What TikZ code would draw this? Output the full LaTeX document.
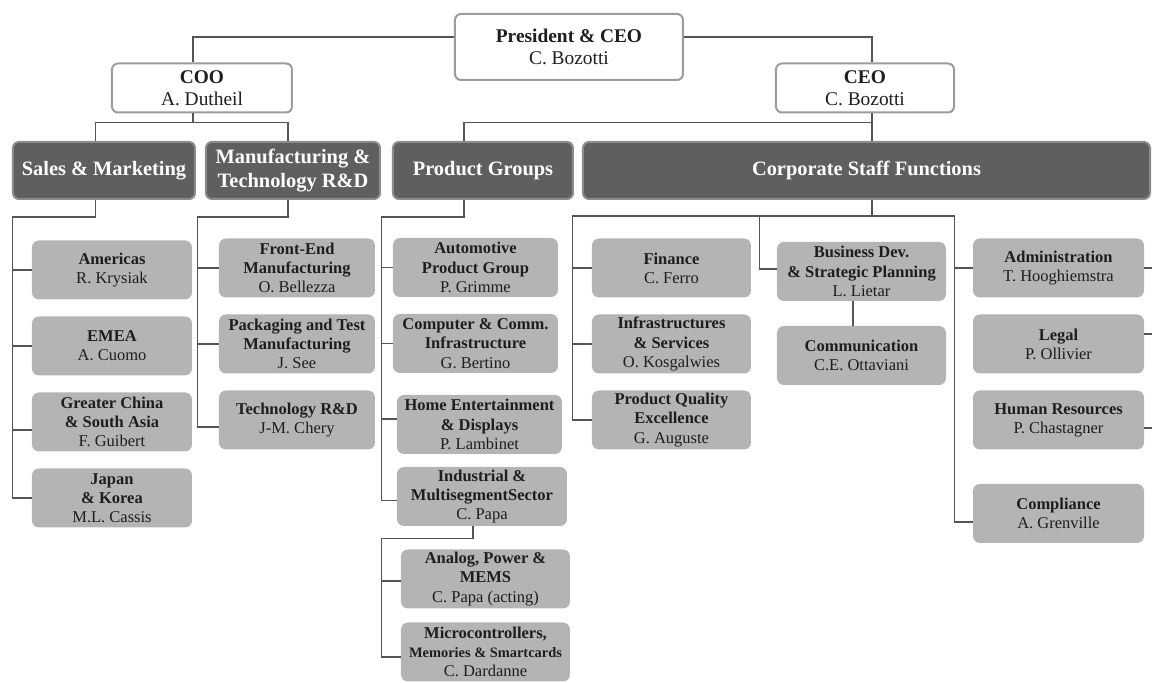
\documentclass[tikz,border=0pt]{standalone}
\usepackage{fontspec}
\setmainfont{Liberation Serif}
\usepackage{tikz}
\usetikzlibrary{positioning}
\usepackage{xcolor}
\definecolor{unitgray}{HTML}{B4B4B4}
\definecolor{darkbox}{HTML}{5F5F5F}
\definecolor{darkedge}{HTML}{8C8C8C}
\definecolor{edgegray}{HTML}{9C9C9C}
\definecolor{linedark}{HTML}{555555}
\definecolor{textdark}{HTML}{1E1E1E}
\tikzstyle{officer} = [rectangle, rounded corners=3pt, minimum width=90pt, minimum height=24.5pt, inner sep=1pt, align=center, draw=edgegray, line width=1pt, fill=white, text=textdark, font=\fontsize{9.7pt}{11.2pt}\selectfont]
\tikzstyle{division} = [rectangle, rounded corners=3pt, minimum width=90pt, minimum height=28.5pt, inner sep=1pt, align=center, draw=darkedge, line width=1pt, fill=darkbox, text=white, font=\fontsize{10.2pt}{12pt}\selectfont\bfseries]
\tikzstyle{unitbox} = [rectangle, rounded corners=3.5pt, minimum width=80pt, minimum height=29.5pt, inner sep=1pt, align=center, fill=unitgray, text=textdark, font=\fontsize{8.25pt}{9.6pt}\selectfont]
\tikzstyle{link} = [draw=linedark, line width=0.6pt]

\begin{document}
\begin{tikzpicture}[node distance=38pt]

\useasboundingbox (-284.5pt,23.5pt) rectangle (291.5pt,-318pt);
\coordinate (edge) at (291.5pt,0);

\node (pres) [officer, minimum width=114pt, minimum height=33pt] {\textbf{President \& CEO}\\C. Bozotti};
\node (coo) [officer, below of=pres, xshift=-183.5pt, yshift=17.5pt] {\textbf{COO}\\A. Dutheil};
\node (ceo) [officer, below of=pres, xshift=148pt, yshift=17.5pt, minimum width=89pt] {\textbf{CEO}\\C. Bozotti};

% divisions
\node (sales) [division, below of=coo, xshift=-49pt, yshift=-3.25pt, minimum width=91pt] {Sales \& Marketing};
\node (manuf) [division, right of=sales, xshift=56.5pt, minimum width=87pt] {Manufacturing \&\\Technology R\&D};
\node (pg) [division, right of=manuf, xshift=57pt] {Product Groups};
\node (corp) [division, below of=ceo, xshift=0.75pt, yshift=-3.25pt, minimum width=283.5pt] {Corporate Staff Functions};

% sales & marketing
\node (amer) [unitbox, below of=sales, xshift=4pt, yshift=-11.75pt] {\textbf{Americas}\\R. Krysiak};
\node (emea) [unitbox, below of=amer] {\textbf{EMEA}\\A. Cuomo};
\node (gc) [unitbox, below of=emea] {\textbf{Greater China}\\\textbf{\& South Asia}\\F. Guibert};
\node (japan) [unitbox, below of=gc] {\textbf{Japan}\\\textbf{\& Korea}\\M.L. Cassis};

% manufacturing
\node (fe) [unitbox, below of=manuf, xshift=2pt, yshift=-10.75pt, minimum width=78pt] {\textbf{Front-End}\\\textbf{Manufacturing}\\O. Bellezza};
\node (pack) [unitbox, below of=fe, minimum width=78pt] {\textbf{Packaging and Test}\\\textbf{Manufacturing}\\J. See};
\node (tech) [unitbox, below of=pack, minimum width=78pt] {\textbf{Technology R\&D}\\J-M. Chery};

% product groups
\node (auto) [unitbox, below of=pg, xshift=-3.75pt, yshift=-10.5pt, minimum width=82.5pt] {\textbf{Automotive}\\\textbf{Product Group}\\P. Grimme};
\node (comp) [unitbox, below of=auto, minimum width=82.5pt] {\textbf{Computer \& Comm.}\\\textbf{Infrastructure}\\G. Bertino};
\node (home) [unitbox, below of=comp, xshift=2pt, yshift=-2.5pt, minimum width=82.5pt] {\textbf{Home Entertainment}\\\textbf{\& Displays}\\P. Lambinet};
\node (indu) [unitbox, below of=home, xshift=1.25pt, yshift=2pt, minimum width=85pt] {\textbf{Industrial \&}\\\textbf{MultisegmentSector}\\C. Papa};
\node (analog) [unitbox, below of=indu, xshift=1.75pt, yshift=-3.25pt, minimum width=84.5pt] {\textbf{Analog, Power \&}\\\textbf{MEMS}\\C. Papa (acting)};
\node (micro) [unitbox, below of=analog, yshift=1.5pt, minimum width=84.5pt] {\textbf{Microcontrollers,}\\{\fontsize{7.2pt}{9.6pt}\selectfont\textbf{Memories \& Smartcards}}\\C. Dardanne};

% corporate staff
\node (fin) [unitbox, below of=corp, xshift=-97.5pt, yshift=-10.75pt, minimum width=79.5pt] {\textbf{Finance}\\C. Ferro};
\node (infra) [unitbox, below of=fin, minimum width=79.5pt] {\textbf{Infrastructures}\\\textbf{\& Services}\\O. Kosgalwies};
\node (pq) [unitbox, below of=infra, minimum width=79.5pt] {\textbf{Product Quality}\\\textbf{Excellence}\\G. Auguste};
\node (bd) [unitbox, below of=corp, xshift=-2.5pt, yshift=-12.5pt, minimum width=84.5pt] {\textbf{Business Dev.}\\\textbf{\& Strategic Planning}\\L. Lietar};
\node (comm) [unitbox, below of=bd, yshift=-4pt, minimum width=84.5pt] {\textbf{Communication}\\C.E. Ottaviani};
\node (admin) [unitbox, below of=corp, xshift=96pt, yshift=-10.75pt, minimum width=85.5pt] {\textbf{Administration}\\T. Hooghiemstra};
\node (legal) [unitbox, below of=admin, minimum width=85.5pt] {\textbf{Legal}\\P. Ollivier};
\node (hr) [unitbox, below of=legal, minimum width=85.5pt] {\textbf{Human Resources}\\P. Chastagner};
\node (compl) [unitbox, below of=hr, yshift=-8.75pt, minimum width=85.5pt] {\textbf{Compliance}\\A. Grenville};

% top links
\draw [link] ([yshift=5pt]pres.west) -| ([xshift=-4.5pt]coo.north);
\draw [link] ([yshift=5pt]pres.east) -| ([xshift=3.5pt]ceo.north);
\draw [link] ([xshift=-4.5pt]coo.south) -- ++(0,-4.5pt);
\draw [link] ([xshift=-4.25pt]sales.north) |- ([xshift=-4.5pt, yshift=-4.5pt]coo.south) -| ([xshift=-2.5pt]manuf.north);
\draw [link] ([xshift=3.5pt]ceo.south) -- ++(0,-4.5pt);
\draw [link] ([xshift=-9.5pt]pg.north) |- ([xshift=3.5pt, yshift=-4.5pt]ceo.south) -| ([xshift=2.75pt]corp.north);

% sales links
\draw [link] ([xshift=-4.25pt]sales.south) -- ++(0,-8.5pt) -| ([xshift=-9.5pt]japan.west) -- (japan.west);
\draw [link] (amer.west) -- ++(-9.5pt,0);
\draw [link] (emea.west) -- ++(-9.5pt,0);
\draw [link] ([yshift=-4pt]gc.west) -- ++(-9.5pt,0);

% manufacturing links
\draw [link] ([xshift=-2.5pt]manuf.south) -- ++(0,-8.5pt) -| ([xshift=-10.5pt, yshift=-3.5pt]tech.west) -- ([yshift=-3.5pt]tech.west);
\draw [link] (fe.west) -- ++(-10.5pt,0);
\draw [link] (pack.west) -- ++(-10.5pt,0);

% product group links
\draw [link] ([xshift=-9.5pt]pg.south) -- ++(0,-8.5pt) -| ([xshift=-7.5pt, yshift=-2pt]indu.west) -- ([yshift=-2pt]indu.west);
\draw [link] (auto.west) -- ++(-5.5pt,0);
\draw [link] (comp.west) -- ++(-5.5pt,0);
\draw [link] ([yshift=2.75pt]home.west) -- ++(-7.5pt,0);
\draw [link] ([xshift=-4.5pt]indu.south) -- ++(0,-6pt) -| ([xshift=-9.5pt, yshift=-2.5pt]micro.west) -- ([yshift=-2.5pt]micro.west);
\draw [link] ([yshift=-1pt]analog.west) -- ++(-9.5pt,0);

% corporate links
\draw [link] ([xshift=2.75pt]corp.south) -- ++(0,-8pt);
\draw [link] (pq.west) -- ++(-9.5pt,0) |- ([xshift=2.75pt, yshift=-8pt]corp.south) -| ([xshift=-9pt, yshift=-4.25pt]compl.west) -- ([yshift=-4.25pt]compl.west);
\draw [link] (fin.west) -- ++(-9.5pt,0);
\draw [link] (infra.west) -- ++(-9.5pt,0);
\draw [link] ([yshift=1.25pt]bd.west) -- ++(-8.5pt,0) |- ([xshift=2.75pt, yshift=-8pt]corp.south);
\draw [link] ([xshift=-4.25pt]bd.south) -- ([xshift=-4.25pt]comm.north);
\draw [link] (admin.west) -- ++(-9pt,0);
\draw [link] (admin.east) -- (admin.east -| edge);
\draw [link] ([yshift=5pt]legal.east) -- ([yshift=5pt]legal.east -| edge);
\draw [link] ([yshift=-4pt]hr.east) -- ([yshift=-4pt]hr.east -| edge);

\end{tikzpicture}
\end{document}
